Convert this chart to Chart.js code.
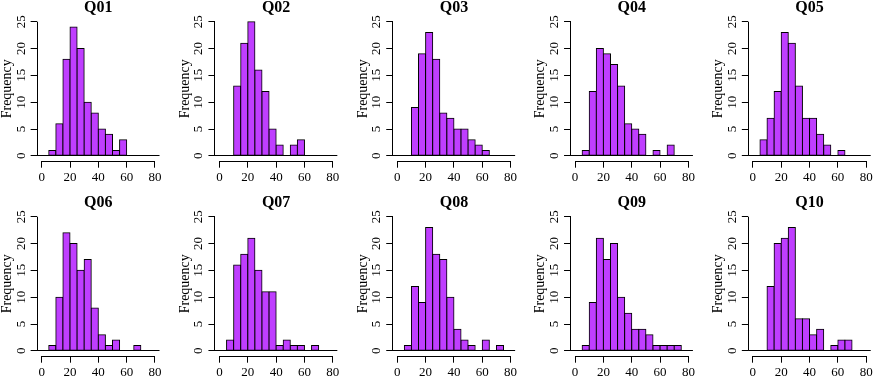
<!DOCTYPE html>
<html><head><meta charset="utf-8">
<script src="https://cdn.jsdelivr.net/npm/chart.js@4/dist/chart.umd.min.js"></script>
<style>
html,body{margin:0;padding:0;background:#fff;}
#wrap{position:relative;width:874px;height:378px;overflow:hidden;background:#fff;}
canvas{position:absolute;}
</style></head><body><div id="wrap"></div>
<script>
// ---- data ----
const binStarts = [0,5,10,15,20,25,30,35,40,45,50,55,60,65,70,75];
const binWidth = 5;
const titles = ['Q01','Q02','Q03','Q04','Q05','Q06','Q07','Q08','Q09','Q10'];
const q01 = [0,1,6,18,24,20,10,8,5,4,1,3,0,0,0,0];
const q02 = [0,0,13,21,25,16,12,5,2,0,2,3,0,0,0,0];
const q03 = [0,0,9,19,23,18,8,7,5,5,3,2,1,0,0,0];
const q04 = [0,1,12,20,19,17,13,6,5,4,0,1,0,2,0,0];
const q05 = [0,3,7,12,23,21,13,7,7,4,2,0,1,0,0,0];
const q06 = [0,1,10,22,20,15,17,8,3,1,2,0,0,1,0,0];
const q07 = [0,2,16,18,21,15,11,11,1,2,1,1,0,1,0,0];
const q08 = [0,1,12,9,23,18,17,10,4,2,1,0,2,0,1,0];
const q09 = [0,1,9,21,17,20,10,7,4,4,3,1,1,1,1,0];
const q10 = [0,0,12,20,21,23,6,6,3,4,0,1,2,2,0,0];
const xTicks = [0,20,40,60,80];
const yTicks = [0,5,10,15,20,25];
const yLabel = 'Frequency';

const series = [q01,q02,q03,q04,q05,q06,q07,q08,q09,q10];

// ---- layout ----
const PITCH = 177.8, ROW_OFF = 195, CW = 178, CH = 189;
const AREA_L = 37.14, AREA_R = 159.53, AREA_T = 16.3, AREA_B = 161.2;
const FILL = '#BF3EFF';

Chart.defaults.font.family = "'Liberation Serif', 'Times New Roman', serif";
Chart.defaults.color = '#000';

const rAxes = {
  id: 'rAxes',
  beforeDatasetsDraw(chart) {
    const ctx = chart.ctx, a = chart.chartArea, y = chart.scales.y;
    const py = Math.round(y.getPixelForValue(0) - 0.5) + 0.5;
    ctx.save();
    ctx.strokeStyle = '#000'; ctx.lineWidth = 1;
    ctx.beginPath(); ctx.moveTo(a.left, py); ctx.lineTo(a.right, py); ctx.stroke();
    ctx.restore();
  },
  afterDraw(chart) {
    const ctx = chart.ctx, a = chart.chartArea, xs = chart.scales.x, ys = chart.scales.y;
    ctx.save();
    ctx.strokeStyle = '#000'; ctx.lineWidth = 1;
    const ax = Math.round(a.left - 0.5) + 0.5;
    ctx.beginPath();
    ctx.moveTo(ax, ys.getPixelForValue(yTicks[0]));
    ctx.lineTo(ax, ys.getPixelForValue(yTicks[yTicks.length-1]));
    ctx.stroke();
    const ay = Math.round(a.bottom - 0.5) + 0.5;
    ctx.beginPath();
    ctx.moveTo(xs.getPixelForValue(xTicks[0]), ay);
    ctx.lineTo(xs.getPixelForValue(xTicks[xTicks.length-1]), ay);
    ctx.stroke();
    ctx.restore();
  }
};

const wrap = document.getElementById('wrap');
series.forEach((counts, i) => {
  const col = i % 5, row = Math.floor(i / 5);
  const cLeft = Math.round(PITCH * col);
  const cTop = row * ROW_OFF;
  const areaL = AREA_L + PITCH * col - cLeft;
  const areaR = AREA_R + PITCH * col - cLeft;
  const cv = document.createElement('canvas');
  cv.width = CW; cv.height = CH;
  cv.style.left = cLeft + 'px'; cv.style.top = cTop + 'px';
  cv.style.width = CW + 'px'; cv.style.height = CH + 'px';
  wrap.appendChild(cv);

  new Chart(cv, {
    type: 'bar',
    data: {
      datasets: [{
        data: binStarts.map((b, k) => ({ x: b + binWidth / 2, y: counts[k] })),
        backgroundColor: FILL,
        borderColor: '#000',
        borderWidth: 1,
        borderSkipped: false,
        inflateAmount: 0.5,
        barPercentage: 1,
        categoryPercentage: 1,
        grouped: false
      }]
    },
    options: {
      responsive: false,
      animation: false,
      devicePixelRatio: 1,
      layout: { padding: { left: 0, top: 0, right: CW - areaR, bottom: 0 } },
      plugins: {
        legend: { display: false },
        tooltip: { enabled: false },
        title: {
          display: true, text: titles[i], color: '#000', fullSize: false,
          font: { size: 16, weight: 'bold', lineHeight: AREA_T / 16 },
          padding: { top: 0, bottom: 0 }
        }
      },
      scales: {
        x: {
          type: 'linear', min: -3.2, max: 83.2, offset: false,
          afterBuildTicks: s => { s.ticks = xTicks.map(v => ({ value: v })); },
          afterFit: s => { s.height = CH - AREA_B; },
          border: { display: false },
          grid: { display: true, offset: false, drawOnChartArea: false, drawTicks: true, tickLength: 6.5, color: '#000', lineWidth: 1 },
          ticks: { autoSkip: false, maxRotation: 0, minRotation: 0, padding: 2.5, color: '#000',
                   font: { size: 13, lineHeight: 1.2 }, callback: v => String(v) }
        },
        y: {
          type: 'linear', min: -1, max: 26,
          afterBuildTicks: s => { s.ticks = yTicks.map(v => ({ value: v })); },
          afterFit: s => { s.width = areaL; },
          border: { display: false },
          grid: { display: true, drawOnChartArea: false, drawTicks: true, tickLength: 6.5, color: '#000', lineWidth: 1 },
          ticks: { autoSkip: false, minRotation: 90, maxRotation: 90, crossAlign: 'center', padding: 3,
                   color: '#000', font: { size: 13, lineHeight: 1.2 }, callback: v => String(v) },
          title: { display: true, text: yLabel, color: '#000', font: { size: 14, lineHeight: 1 }, padding: { top: 0, bottom: 0 } }
        }
      }
    },
    plugins: [rAxes]
  });
});
</script>
</body></html>
